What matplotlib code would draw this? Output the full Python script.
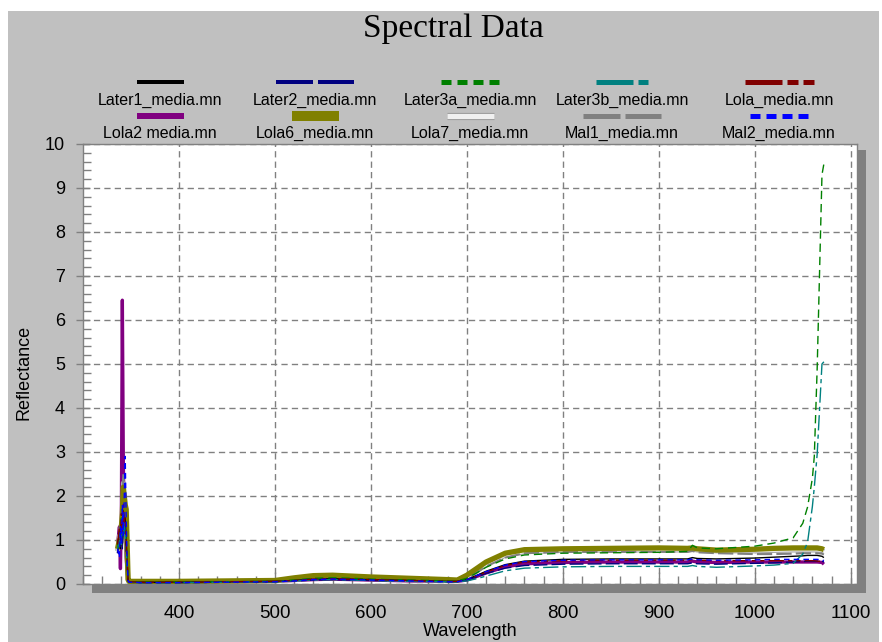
import matplotlib
matplotlib.use("Agg")
import matplotlib.pyplot as plt
from matplotlib.patches import Rectangle
from matplotlib.lines import Line2D
import matplotlib.patheffects as pe

plt.rcParams['font.family'] = ['Liberation Sans', 'DejaVu Sans']
plt.rcParams['lines.scale_dashes'] = False

# ---------------- data ----------------
wavelength = [336, 338, 339, 340, 341, 342, 343, 344, 345, 346, 347, 348,
              360, 400, 450, 500, 520, 540, 560, 580, 600, 640, 680, 690,
              700, 710, 720, 740, 760, 800, 850, 900, 930, 935, 940, 960,
              1000, 1020, 1040, 1050, 1055, 1060, 1062, 1065, 1070, 1072]

later1 = [0.9, 1.1, 0.8, 1.4, 1.0, 1.6, 1.2, 1.5, 0.9, 0.5, 0.08, 0.05,
          0.04, 0.04, 0.05, 0.06, 0.08, 0.11, 0.12, 0.11, 0.10, 0.08, 0.06, 0.06,
          0.10, 0.19, 0.29, 0.44, 0.52, 0.56, 0.57, 0.57, 0.57, 0.60, 0.58, 0.57,
          0.59, 0.61, 0.63, 0.64, 0.65, 0.65, 0.65, 0.65, 0.63, 0.60]
later2 = [0.7, 1.0, 0.9, 1.2, 0.8, 1.4, 1.1, 1.3, 0.8, 0.4, 0.07, 0.04,
          0.03, 0.03, 0.04, 0.05, 0.07, 0.09, 0.10, 0.09, 0.08, 0.07, 0.05, 0.05,
          0.09, 0.16, 0.24, 0.36, 0.42, 0.45, 0.46, 0.46, 0.46, 0.48, 0.46, 0.45,
          0.47, 0.48, 0.50, 0.51, 0.52, 0.52, 0.52, 0.52, 0.52, 0.50]
later3a = [0.8, 1.2, 0.9, 1.5, 1.1, 1.7, 1.3, 1.4, 1.0, 0.5, 0.08, 0.05,
           0.04, 0.04, 0.05, 0.06, 0.09, 0.13, 0.14, 0.13, 0.11, 0.09, 0.07, 0.07,
           0.13, 0.25, 0.38, 0.57, 0.66, 0.70, 0.71, 0.72, 0.74, 0.88, 0.82, 0.80,
           0.86, 0.93, 1.05, 1.38, 1.75, 2.40, 2.90, 4.90, 9.30, 9.55]
later3b = [0.8, 1.0, 1.2, 0.9, 1.5, 1.2, 1.4, 1.1, 0.8, 0.4, 0.07, 0.04,
           0.03, 0.03, 0.04, 0.05, 0.07, 0.09, 0.10, 0.09, 0.08, 0.06, 0.05, 0.05,
           0.07, 0.12, 0.18, 0.30, 0.36, 0.39, 0.40, 0.40, 0.40, 0.42, 0.40, 0.38,
           0.41, 0.43, 0.47, 0.68, 0.95, 1.76, 2.20, 2.95, 5.00, 5.05]
lola = [0.9, 1.3, 1.0, 1.6, 1.2, 1.8, 1.4, 1.5, 0.9, 0.5, 0.08, 0.05,
        0.04, 0.04, 0.05, 0.06, 0.08, 0.11, 0.12, 0.11, 0.10, 0.08, 0.06, 0.06,
        0.10, 0.18, 0.27, 0.42, 0.50, 0.53, 0.54, 0.54, 0.54, 0.56, 0.54, 0.53,
        0.53, 0.53, 0.53, 0.53, 0.53, 0.53, 0.53, 0.52, 0.51, 0.50]
lola2 = [0.9, 1.3, 0.35, 1.6, 6.45, 2.8, 1.2, 1.0, 0.6, 0.3, 0.08, 0.05,
         0.04, 0.04, 0.05, 0.06, 0.08, 0.10, 0.11, 0.10, 0.09, 0.07, 0.06, 0.06,
         0.09, 0.17, 0.25, 0.39, 0.46, 0.49, 0.50, 0.50, 0.50, 0.52, 0.50, 0.49,
         0.50, 0.50, 0.50, 0.50, 0.50, 0.50, 0.50, 0.50, 0.49, 0.45]
lola6 = [0.8, 1.0, 0.9, 1.3, 1.6, 2.2, 2.0, 1.8, 1.7, 0.9, 0.10, 0.06,
         0.06, 0.06, 0.07, 0.08, 0.14, 0.19, 0.20, 0.18, 0.16, 0.13, 0.10, 0.09,
         0.20, 0.35, 0.50, 0.70, 0.78, 0.80, 0.81, 0.82, 0.81, 0.82, 0.80, 0.77,
         0.79, 0.81, 0.82, 0.82, 0.82, 0.82, 0.82, 0.82, 0.80, 0.78]
lola7 = [0.75, 1.1, 0.9, 1.4, 1.2, 2.3, 1.5, 1.3, 1.0, 0.5, 0.08, 0.05,
         0.05, 0.05, 0.06, 0.07, 0.10, 0.14, 0.15, 0.14, 0.12, 0.10, 0.08, 0.08,
         0.15, 0.29, 0.44, 0.65, 0.73, 0.76, 0.77, 0.77, 0.77, 0.79, 0.77, 0.75,
         0.75, 0.76, 0.77, 0.77, 0.77, 0.77, 0.77, 0.77, 0.76, 0.74]
mal1 = [0.7, 1.1, 0.8, 1.5, 1.2, 2.5, 1.6, 1.4, 1.0, 0.5, 0.07, 0.05,
        0.05, 0.05, 0.06, 0.07, 0.10, 0.13, 0.14, 0.13, 0.11, 0.09, 0.07, 0.07,
        0.13, 0.26, 0.40, 0.60, 0.70, 0.73, 0.73, 0.73, 0.73, 0.75, 0.72, 0.70,
        0.68, 0.68, 0.69, 0.70, 0.70, 0.70, 0.70, 0.70, 0.69, 0.67]
mal2 = [0.8, 0.6, 1.3, 0.9, 1.8, 1.1, 2.0, 2.9, 1.5, 0.5, 0.08, 0.04,
        0.03, 0.03, 0.04, 0.05, 0.07, 0.10, 0.11, 0.10, 0.09, 0.07, 0.05, 0.05,
        0.10, 0.19, 0.28, 0.43, 0.51, 0.54, 0.55, 0.55, 0.55, 0.57, 0.55, 0.54,
        0.55, 0.56, 0.56, 0.56, 0.56, 0.56, 0.56, 0.56, 0.55, 0.53]

series_names = ["Later1_media.mn", "Later2_media.mn", "Later3a_media.mn",
                "Later3b_media.mn", "Lola_media.mn", "Lola2 media.mn",
                "Lola6_media.mn", "Lola7_media.mn", "Mal1_media.mn", "Mal2_media.mn"]
series_values = [later1, later2, later3a, later3b, lola, lola2, lola6, lola7, mal1, mal2]
series_colors = ["#000000", "#000080", "#008000", "#008080", "#800000",
                 "#800080", "#808000", "#f0f0f0", "#808080", "#0000ff"]

x_ticks = [400, 500, 600, 700, 800, 900, 1000, 1100]
y_ticks = [0, 1, 2, 3, 4, 5, 6, 7, 8, 9, 10]

# ---------------- styles ----------------
plot_lw = [1.0, 1.0, 1.0, 1.0, 1.0, 2.4, 3.8, 2.0, 1.5, 1.0]
plot_dash = [None, (10, 3), (6, 3.5), (11, 3, 3, 3), (11, 3, 3, 3, 3, 3),
             None, None, None, (11, 3), (4, 3)]
leg_len = [47, 78, 58, 52, 69, 47, 47, 47, 78, 58]
leg_thick = [4, 4, 5, 5, 5, 6, 10, 5, 5, 5]
leg_dash = [None, (37, 5), (10, 6), (37, 5, 10, 5), (37, 5, 11, 5, 11, 5),
            None, None, None, (37, 5), (10, 6)]
draw_order = [5, 7, 8, 6, 0, 1, 2, 3, 4, 9]

W, H = 882, 642
fig = plt.figure(figsize=(W / 100, H / 100), dpi=100, facecolor="#c0c0c0")


def fx(px):
    return px / W


def fy(py):
    return 1 - py / H


# white margins
for (x0, y0, x1, y1) in [(0, 0, W, 11), (0, 0, 8, H), (879, 0, W, H)]:
    fig.patches.append(Rectangle((fx(x0), fy(y1)), fx(x1) - fx(x0), fy(y0) - fy(y1),
                                 transform=fig.transFigure, facecolor="white",
                                 edgecolor="none", zorder=-5))

# shadow
L, T, R, B = 83, 144, 857, 584
fig.patches.append(Rectangle((fx(L + 9), fy(B + 9)), fx(R - L), fy(T + 6) - fy(B + 9),
                             transform=fig.transFigure, facecolor="#808080",
                             edgecolor="none", zorder=-1))

ax = fig.add_axes([fx(L), fy(B), fx(R - L), fy(T) - fy(B)])
ax.set_facecolor("white")

for i in draw_order:
    kw = dict(color=series_colors[i], lw=plot_lw[i], solid_capstyle="butt",
              dash_capstyle="butt", zorder=3)
    if series_names[i].startswith("Lola7"):
        kw["path_effects"] = [pe.Stroke(linewidth=plot_lw[i] + 1.4, foreground="#a0a0a0"),
                              pe.Normal()]
    line, = ax.plot(wavelength, series_values[i], **kw)
    if plot_dash[i] is not None:
        line.set_dashes(plot_dash[i])

ax.set_xlim(300, 1106.5)
ax.set_ylim(0, 10)
ax.set_xticks(x_ticks)
ax.set_yticks(y_ticks)
ax.set_xticks(list(range(300, 1107, 20)), minor=True)
ax.set_yticks([v / 5 for v in range(0, 51)], minor=True)
ax.grid(True, which="major", color="#808080", lw=1.0, linestyle=(0, (4.5, 3)))
ax.set_axisbelow(True)

ax.tick_params(axis="x", which="major", direction="in", length=9, width=1,
               color="#808080", pad=15, labelsize=13.5, labelcolor="black")
ax.tick_params(axis="x", which="minor", direction="in", length=6, width=1,
               color="#808080")
ax.tick_params(axis="y", which="major", direction="inout", length=10, width=1,
               color="#808080", pad=8, labelsize=13, labelcolor="black")
ax.tick_params(axis="y", which="minor", direction="in", length=6, width=1,
               color="#808080")
for s in ax.spines.values():
    s.set_color("#808080")
    s.set_linewidth(1)

# titles / labels
fig.text(fx(453), fy(29), "Spectral Data", family=["Liberation Serif", "DejaVu Serif"],
         fontsize=24, ha="center", va="center")
fig.text(fx(24), fy(372), "Reflectance", rotation=90, fontsize=13,
         ha="center", va="center")
fig.text(fx(470), fy(631), "Wavelength", fontsize=13, ha="center", va="center")

# legend (custom, sample above label)
col_x = [160, 315, 470, 622, 779]
row_line_y = [82, 116]
row_text_y = [100, 133]
for k in range(10):
    r, c = divmod(k, 5)
    cx = col_x[c]
    half = leg_len[k] / 2
    ly = row_line_y[r]
    lw_pt = leg_thick[k] * 0.72
    kw = dict(transform=fig.transFigure, color=series_colors[k], lw=lw_pt,
              solid_capstyle="butt", dash_capstyle="butt")
    if series_names[k].startswith("Lola7"):
        kw["path_effects"] = [pe.Stroke(linewidth=lw_pt + 1.6, foreground="#a0a0a0"),
                              pe.Normal()]
    ln = Line2D([fx(cx - half), fx(cx + half)], [fy(ly), fy(ly)], **kw)
    if leg_dash[k] is not None:
        ln.set_dashes(tuple(d * 0.72 for d in leg_dash[k]))
    fig.add_artist(ln)
    fig.text(fx(cx), fy(row_text_y[r]), series_names[k], fontsize=11.5,
             ha="center", va="center")

fig.savefig("out.png", dpi=100, facecolor=fig.get_facecolor())
